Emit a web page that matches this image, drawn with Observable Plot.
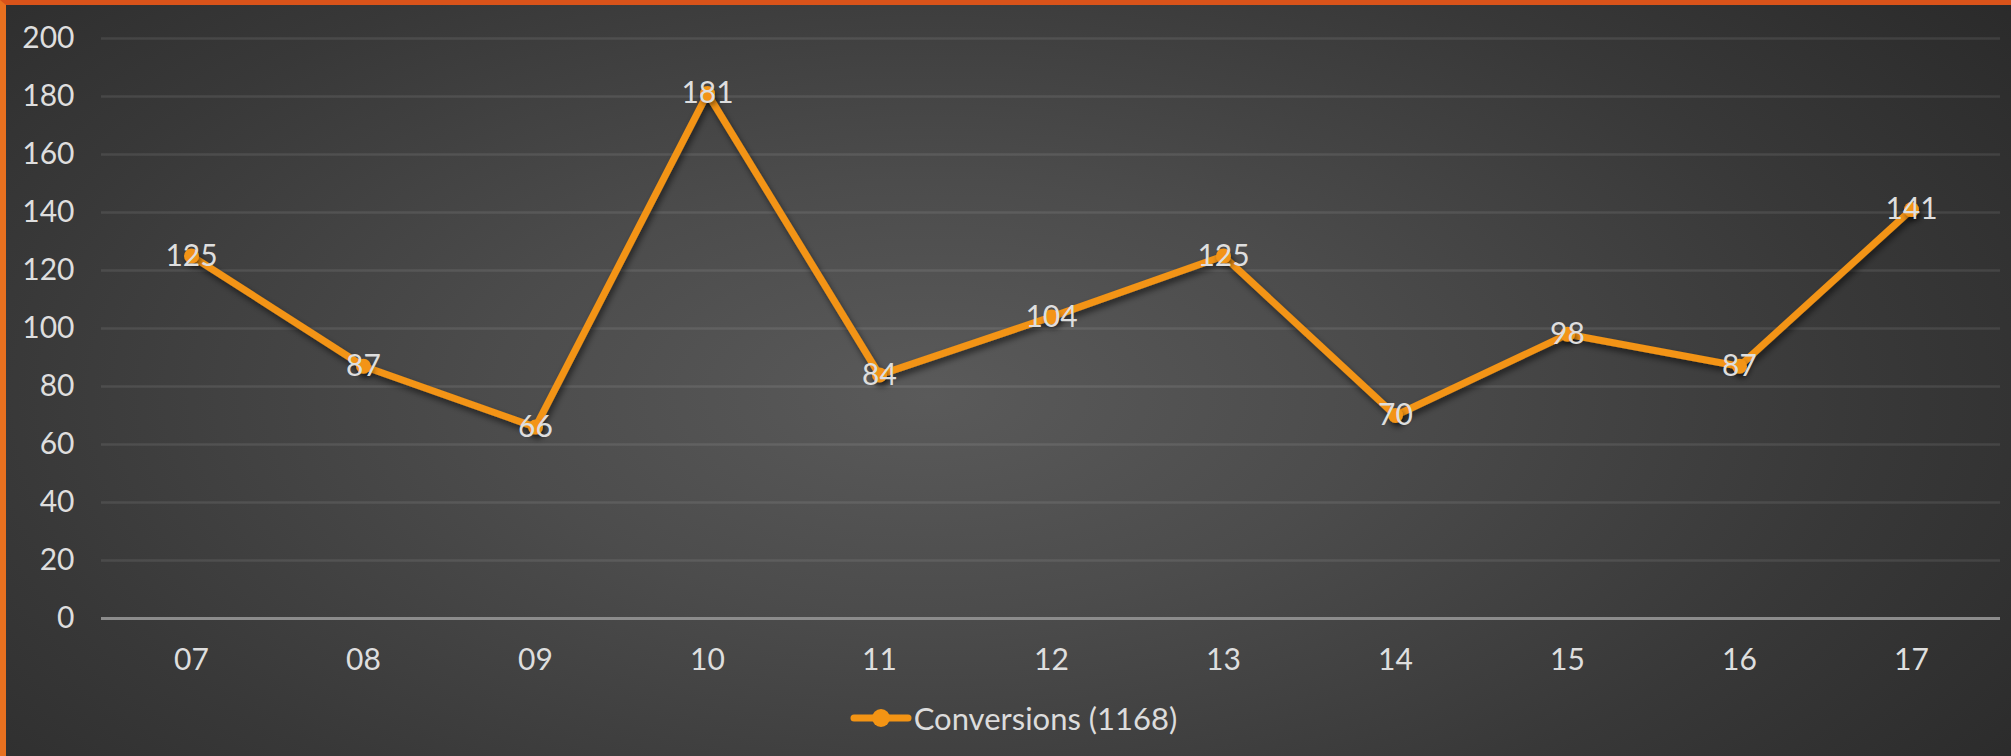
<!DOCTYPE html>
<html>
<head>
<meta charset="utf-8">
<script src="https://cdn.jsdelivr.net/npm/d3@7"></script>
<script src="https://cdn.jsdelivr.net/npm/@observablehq/plot@0.6"></script>
<style>
  html, body { margin: 0; padding: 0; background: #262626; }
  #frame {
    position: relative;
    width: 2011px; height: 756px; box-sizing: border-box;
    border-top: 5px solid #d9531a;
    border-left: 6px solid #e8701f;
    background: radial-gradient(ellipse 72% 95% at 46% 52%, #5a5a5a 0%, #4c4c4c 30%, #383838 65%, #272727 100%);
    font-family: "Lato", "Open Sans", sans-serif;
    overflow: hidden;
  }
  #topbar { position:absolute; left:-6px; top:-5px; width:2011px; height:5px;
    background: linear-gradient(90deg, #ea6e1e 0%, #d9531a 50%, #bf2f0a 100%); }
  #legend {
    height: 71px; display: flex; align-items: center; justify-content: center;
    padding-left: 10px; box-sizing: border-box;
    color: #dcdcdc; font-size: 31px; margin-top: -3px;
  }
  #legend svg { margin-right: 2px; }
</style>
</head>
<body>
<div id="frame"><div id="topbar"></div><div id="chart"></div><div id="legend"></div></div>
<script>
const categories = ["07", "08", "09", "10", "11", "12", "13", "14", "15", "16", "17"];
const conversions = [125, 87, 66, 181, 84, 104, 125, 70, 98, 87, 141];
const yTicks = [0, 20, 40, 60, 80, 100, 120, 140, 160, 180, 200];
const seriesName = "Conversions";

const data = categories.map((c, i) => ({ day: c, value: conversions[i] }));
const total = d3.sum(conversions);
const lineColor = "#f39414";
const textColor = "#dedede";

const plot = Plot.plot({
  width: 2005,
  height: 680,
  marginLeft: 95,
  marginRight: 11,
  marginTop: 33,
  marginBottom: 67,
  style: { background: "transparent", fontFamily: "Lato, 'Open Sans', sans-serif", fontSize: "30px", color: textColor, overflow: "visible" },
  x: { type: "point", domain: categories, padding: 0.5, label: null },
  y: { domain: [0, 200], ticks: yTicks, label: null },
  marks: [
    Plot.gridY(yTicks.filter(d => d !== 0), { stroke: "#ffffff", strokeOpacity: 0.09, strokeWidth: 2.5 }),
    Plot.axisY({ ticks: yTicks, tickSize: 0, tickPadding: 27, fill: textColor, fontSize: 30, label: null }),
    Plot.axisX({ tickSize: 0, tickPadding: 30, fill: textColor, fontSize: 30, label: null }),
    Plot.ruleY([0], { stroke: "#8c8c8c", strokeWidth: 3 }),
    Plot.line(data, { x: "day", y: "value", stroke: lineColor, strokeWidth: 7, strokeLinejoin: "miter", strokeLinecap: "round" }),
    Plot.dot(data, { x: "day", y: "value", r: 7.5, fill: lineColor, stroke: null }),
    Plot.text(data, { x: "day", y: "value", text: d => String(d.value), fill: textColor, fontSize: 30 })
  ]
});

// drop shadow for the line (style only)
const svg = d3.select(plot);
const defs = svg.insert("defs", ":first-child");
const f = defs.append("filter").attr("id", "shadow").attr("x", "-10%").attr("y", "-10%").attr("width", "120%").attr("height", "130%");
f.append("feDropShadow").attr("dx", 2).attr("dy", 4).attr("stdDeviation", 3).attr("flood-color", "#000").attr("flood-opacity", 0.55);
svg.selectAll("g[aria-label='line'], g[aria-label='dot']").attr("filter", "url(#shadow)");

document.getElementById("chart").appendChild(plot);

// legend
const legend = document.getElementById("legend");
legend.innerHTML =
  `<svg width="62" height="24" viewBox="0 0 62 24"><line x1="4" y1="12" x2="58" y2="12" stroke="${lineColor}" stroke-width="7" stroke-linecap="round"/><circle cx="31" cy="12" r="9" fill="${lineColor}"/></svg>` +
  `<span>${seriesName} (${total})</span>`;
</script>
</body>
</html>
